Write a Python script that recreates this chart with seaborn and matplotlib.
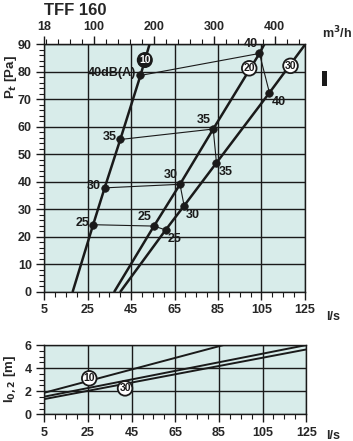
import numpy as np
import pandas as pd
import matplotlib
matplotlib.use("Agg")
import matplotlib.pyplot as plt
from matplotlib.ticker import MultipleLocator, FixedLocator
from matplotlib.patches import Rectangle
import seaborn as sns

sns.set_style("ticks")
plt.rcParams['font.family'] = ['Liberation Sans', 'DejaVu Sans']
plt.rcParams['font.weight'] = 'bold'

# damper settings 10 / 20 / 30 : flow (l/s) vs total pressure (Pa)
flow_10 = [18.1, 27.5, 32.8, 40.0, 49.3, 53.5]
pt_10 = [0, 24.3, 37.7, 55.3, 78.6, 90]
flow_20 = [37.3, 55.5, 67.5, 82.8, 104.1, 106.4]
pt_20 = [0, 23.8, 39.0, 59.1, 86.6, 90]
flow_30 = [40.1, 60.9, 69.4, 84.3, 108.7, 124.9]
pt_30 = [0, 22.4, 31.2, 46.8, 72.3, 89.6]
db_levels = [25, 30, 35, 40]   # sound points sit at index 1..4

# throw l0,2 (m)
throw_x_10 = [5, 87]
throw_10 = [1.87, 6.0]
throw_x_20 = [5, 125]
throw_20 = [1.53, 6.0]
throw_x_30 = [5, 125]
throw_30 = [1.32, 5.62]

flow_ticks = [5, 25, 45, 65, 85, 105, 125]
m3h_ticks = [18, 100, 200, 300, 400]

bg = "#d8ecea"
dark = "#1a1a1a"
fs = 9

fig = plt.figure(figsize=(3.53, 4.41), dpi=100)
ax = fig.add_axes([0.1255, 0.339, 0.738, 0.561])
ax2 = fig.add_axes([0.1255, 0.0605, 0.742, 0.157])

df = pd.concat([
    pd.DataFrame({'flow': flow_10, 'pt': pt_10, 'set': '10'}),
    pd.DataFrame({'flow': flow_20, 'pt': pt_20, 'set': '20'}),
    pd.DataFrame({'flow': flow_30, 'pt': pt_30, 'set': '30'}),
])
sns.lineplot(data=df, x='flow', y='pt', hue='set', units='set', estimator=None, sort=False,
             palette=[dark] * 3, lw=1.8, legend=False, ax=ax, zorder=3)

# iso dB lines
for i, lev in enumerate(db_levels):
    k = i + 1
    iso = pd.DataFrame({'flow': [flow_10[k], flow_20[k], flow_30[k]],
                        'pt': [pt_10[k], pt_20[k], pt_30[k]]})
    sns.lineplot(data=iso, x='flow', y='pt', sort=False, estimator=None, color=dark, lw=0.8, ax=ax, zorder=3)
    sns.scatterplot(data=iso, x='flow', y='pt', color=dark, s=30, edgecolor=dark, ax=ax, zorder=4)
    lab10 = "40dB(A)" if lev == 40 else str(lev)
    ax.annotate(lab10, (flow_10[k], pt_10[k]), xytext=(-4, 2), textcoords='offset pixels',
                ha='right', va='center', fontsize=fs, fontweight='bold', color=dark)
    ax.annotate(str(lev), (flow_20[k], pt_20[k]), xytext=(-2, 3), textcoords='offset pixels',
                ha='right', va='bottom', fontsize=fs, fontweight='bold', color=dark)
    ax.annotate(str(lev), (flow_30[k], pt_30[k]), xytext=(2, -3), textcoords='offset pixels',
                ha='left', va='top', fontsize=fs, fontweight='bold', color=dark)

circ = dict(fontsize=7.5, fontweight='bold', ha='center', va='center', zorder=6)
ax.text(51.3, 84.2, "10", color='white', bbox=dict(boxstyle="circle,pad=0.15", fc=dark, ec=dark, lw=1), **circ)
ax.text(99.4, 81.2, "20", color=dark, bbox=dict(boxstyle="circle,pad=0.15", fc='white', ec=dark, lw=1.3), **circ)
ax.text(118.4, 82.1, "30", color=dark, bbox=dict(boxstyle="circle,pad=0.15", fc='white', ec=dark, lw=1.3), **circ)

# throw chart
tdf = pd.concat([
    pd.DataFrame({'flow': throw_x_10, 'l': throw_10, 'set': '10'}),
    pd.DataFrame({'flow': throw_x_20, 'l': throw_20, 'set': '20'}),
    pd.DataFrame({'flow': throw_x_30, 'l': throw_30, 'set': '30'}),
])
sns.lineplot(data=tdf, x='flow', y='l', hue='set', units='set', estimator=None, sort=False,
             palette=[dark] * 3, lw=1.4, legend=False, ax=ax2, zorder=3)
ax2.text(25.6, 3.12, "10", color=dark, bbox=dict(boxstyle="circle,pad=0.15", fc='white', ec=dark, lw=1.3), **circ)
ax2.text(42, 2.25, "30", color=dark, bbox=dict(boxstyle="circle,pad=0.15", fc='white', ec=dark, lw=1.3), **circ)

for a in (ax, ax2):
    a.set_facecolor(bg)
    a.set_xlim(5, 125)
    a.xaxis.set_major_locator(FixedLocator(flow_ticks))
    a.xaxis.set_minor_locator(MultipleLocator(5))
    a.grid(True, which='major', color=dark, lw=1.0)
    a.set_xlabel("")
    a.set_ylabel("")
    for s in a.spines.values():
        s.set_color(dark)
        s.set_linewidth(1.0)
    a.tick_params(which='major', length=6, width=1, color=dark, labelsize=fs, pad=3)
    a.tick_params(which='minor', length=3.5, width=0.8, color=dark)
    for t in a.get_xticklabels() + a.get_yticklabels():
        t.set_fontweight('bold')

ax.set_ylim(0, 90)
ax.yaxis.set_major_locator(MultipleLocator(10))
ax.yaxis.set_minor_locator(MultipleLocator(2))
ax2.set_ylim(0, 6)
ax2.yaxis.set_major_locator(MultipleLocator(2))
ax2.yaxis.set_minor_locator(MultipleLocator(0.5))

# top m3/h axis
top = ax.secondary_xaxis('top', functions=(lambda q: q * 3.6, lambda m: m / 3.6))
top.xaxis.set_major_locator(FixedLocator(m3h_ticks))
top.xaxis.set_minor_locator(FixedLocator(np.arange(20, 441, 20)))
top.tick_params(which='major', length=6, width=1, color=dark, labelsize=fs, pad=2)
top.tick_params(which='minor', length=3.5, width=0.8, color=dark)
for t in top.get_xticklabels():
    t.set_fontweight('bold')
top.spines['top'].set_color(dark)

fig.text(0.125, 0.977, "TFF 160", fontsize=12, fontweight='bold', va='center', ha='left')
fig.text(0.955, 0.925, "m$^3$/h", fontsize=fs, fontweight='bold', ha='center', va='center')
fig.text(0.945, 0.282, "l/s", fontsize=fs, fontweight='bold', ha='center', va='center')
fig.text(0.945, 0.012, "l/s", fontsize=fs, fontweight='bold', ha='center', va='center')
fig.text(0.03, 0.825, "P$_t$ [Pa]", fontsize=9.5, fontweight='bold', rotation=90, ha='center', va='center')
fig.text(0.03, 0.14, "l$_{0,2}$ [m]", fontsize=9.5, fontweight='bold', rotation=90, ha='center', va='center')
fig.add_artist(Rectangle((0.912, 0.805), 0.013, 0.035, transform=fig.transFigure, fc=dark, ec='none'))

fig.savefig("out.png", dpi=100)
